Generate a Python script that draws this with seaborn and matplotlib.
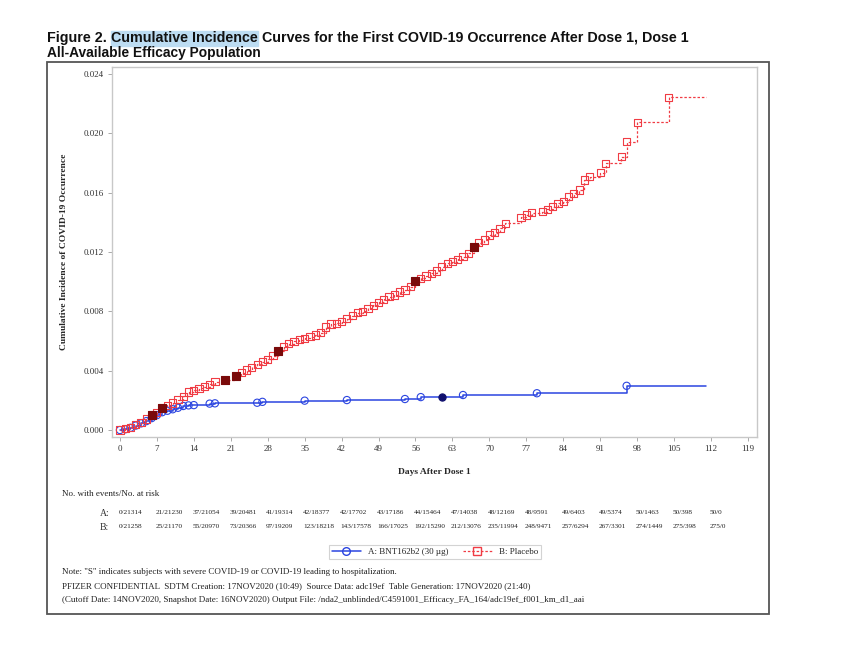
import numpy as np
import pandas as pd
import seaborn as sns
import matplotlib
matplotlib.use("Agg")
import matplotlib.pyplot as plt
from matplotlib.lines import Line2D
from matplotlib.patches import Rectangle

# ---- data ----
# A: BNT162b2 (30 ug), event days and cumulative incidence
vax_days = [0, 1, 2, 3, 4, 5, 6, 7, 8, 9, 10, 11, 12, 13, 14, 17, 18, 26, 27,
            35, 43, 54, 57, 61, 65, 79, 96]
vax_ci = [0.0, 0.00005, 0.00015, 0.0003, 0.00045, 0.0006, 0.0008, 0.001,
          0.0012, 0.0013, 0.0014, 0.0015, 0.00162, 0.00166, 0.00168, 0.00178,
          0.0018, 0.00184, 0.0019, 0.00198, 0.00202, 0.00209, 0.00222,
          0.00225, 0.00236, 0.00248, 0.00298]
vax_severe_days = [61]
vax_end = 111

# B: Placebo
pbo_days = [0, 1, 2, 3, 4, 5, 6, 7, 8, 9, 10, 11, 12, 13, 14, 15, 16, 17, 18,
            20, 22, 23, 24, 25, 26, 27, 28, 29, 30, 31, 32, 33, 34, 35, 36, 37,
            38, 39, 40, 41, 42, 43, 44, 45, 46, 47, 48, 49, 50, 51, 52, 53, 54,
            55, 56, 57, 58, 59, 60, 61, 62, 63, 64, 65, 66, 67, 68, 69, 70, 71,
            72, 73, 76, 77, 78, 80, 81, 82, 83, 84, 85, 86, 87, 88, 89, 91, 92,
            95, 96, 98, 104]
pbo_ci = [0.0, 0.0001, 0.00018, 0.00036, 0.00052, 0.00075, 0.00098, 0.0012,
          0.0015, 0.00166, 0.00182, 0.00205, 0.00227, 0.00257, 0.00268, 0.0028,
          0.00291, 0.00309, 0.00325, 0.00336, 0.00366, 0.00386, 0.00405,
          0.00423, 0.00443, 0.00461, 0.00477, 0.005, 0.00536, 0.00564, 0.00582,
          0.00598, 0.0061, 0.00618, 0.0063, 0.0064, 0.00655, 0.00695, 0.00714,
          0.0072, 0.0073, 0.0075, 0.0077, 0.0079, 0.0080, 0.0082, 0.0084,
          0.0086, 0.0088, 0.0090, 0.0091, 0.0093, 0.00944, 0.00966, 0.01007,
          0.01023, 0.01038, 0.01056, 0.01072, 0.01101, 0.01124, 0.01135,
          0.01151, 0.01169, 0.01191, 0.01236, 0.01263, 0.01281, 0.01315,
          0.0133, 0.0136, 0.01393, 0.01434, 0.0145, 0.01465, 0.01472, 0.01488,
          0.01506, 0.01528, 0.01539, 0.01573, 0.01596, 0.01618, 0.01685,
          0.01708, 0.01735, 0.01798, 0.01843, 0.01944, 0.02074, 0.02243]
pbo_severe_days = [6, 8, 20, 22, 30, 56, 67]
pbo_end = 111

risk_days = list(range(0, 113, 7))
risk_a = ["0/21314", "21/21230", "37/21054", "39/20481", "41/19314", "42/18377",
          "42/17702", "43/17186", "44/15464", "47/14038", "48/12169", "48/9591",
          "49/6403", "49/5374", "50/1463", "50/398", "50/0"]
risk_b = ["0/21258", "25/21170", "55/20970", "73/20366", "97/19209", "123/18218",
          "143/17578", "166/17025", "192/15290", "212/13076", "235/11994",
          "248/9471", "257/6294", "267/3301", "274/1449", "275/398", "275/0"]

notes = [
    'Note: "S" indicates subjects with severe COVID-19 or COVID-19 leading to hospitalization.',
    "PFIZER CONFIDENTIAL  SDTM Creation: 17NOV2020 (10:49)  Source Data: adc19ef  Table Generation: 17NOV2020 (21:40)",
    "(Cutoff Date: 14NOV2020, Snapshot Date: 16NOV2020) Output File: /nda2_unblinded/C4591001_Efficacy_FA_164/adc19ef_f001_km_d1_aai",
]

# ---- build frames ----
vax = pd.DataFrame({"day": vax_days, "ci": vax_ci})
pbo = pd.DataFrame({"day": pbo_days, "ci": pbo_ci})
vax_line = pd.concat([vax, pd.DataFrame({"day": [vax_end], "ci": [vax_ci[-1]]})])
pbo_line = pd.concat([pbo, pd.DataFrame({"day": [pbo_end], "ci": [pbo_ci[-1]]})])
vax["severe"] = vax["day"].isin(vax_severe_days)
pbo["severe"] = pbo["day"].isin(pbo_severe_days)

sns.set_style("white")
plt.rcParams["font.family"] = ["Liberation Serif", "DejaVu Serif"]

BLUE = "#2b45e0"
RED = "#f03c44"

fig = plt.figure(figsize=(8.42, 6.56), dpi=100)
W, H = 842, 656
ax = fig.add_axes([112 / W, 1 - 437 / H, 645 / W, 370 / H])

sns.lineplot(data=vax_line, x="day", y="ci", ax=ax, color=BLUE, lw=1.1,
             drawstyle="steps-post", estimator=None, sort=False)
sns.lineplot(data=pbo_line, x="day", y="ci", ax=ax, color=RED, lw=0.9,
             drawstyle="steps-post", estimator=None, sort=False,
             linestyle=(0, (2, 1.5)))

ms = 27
sns.scatterplot(data=vax[~vax["severe"]], x="day", y="ci", ax=ax, marker="o",
                s=ms, facecolor="none", edgecolor=BLUE, linewidth=0.8, zorder=3)
sns.scatterplot(data=vax[vax["severe"]], x="day", y="ci", ax=ax, marker="o",
                s=ms, color="#10106e", edgecolor="#10106e", linewidth=0.8, zorder=4)
sns.scatterplot(data=pbo[~pbo["severe"]], x="day", y="ci", ax=ax, marker="s",
                s=ms, facecolor="none", edgecolor=RED, linewidth=0.8, zorder=3)
sns.scatterplot(data=pbo[pbo["severe"]], x="day", y="ci", ax=ax, marker="s",
                s=ms, color="#7a0a0a", edgecolor="#7a0a0a", linewidth=0.8, zorder=4)

ax.set_xlim(-1.5, 120.7)
ax.set_ylim(-0.00047, 0.02447)
ax.set_xticks(range(0, 120, 7))
ax.set_yticks(np.arange(0, 0.0241, 0.004))
ax.yaxis.set_major_formatter(matplotlib.ticker.FormatStrFormatter("%.3f"))
ax.tick_params(axis="both", labelsize=6.5, colors="#333333", length=3,
               width=0.7, direction="out", color="#aaaaaa", pad=3)
ax.tick_params(axis="both", which="both", bottom=True, left=True)
for sp in ax.spines.values():
    sp.set_color("#c8c8c8")
    sp.set_linewidth(1.0)

ax.set_xlabel("Days After Dose 1", fontsize=6.8, fontweight="bold")
ax.set_ylabel("Cumulative Incidence of COVID-19 Occurrence", fontsize=6.8,
              fontweight="bold")
ax.xaxis.set_label_coords(0.5, -(468 - 437) / 370)
ax.yaxis.set_label_coords(-(112 - 68) / 645, 0.5)

# ---- risk table ----
tr = ax.get_xaxis_transform()
ya = -(513 - 437) / 370
yb = -(527 - 437) / 370
ax.text(-3.8, ya, "A:", transform=tr, fontsize=7, va="center", ha="left",
        color="#333333", clip_on=False)
ax.text(-3.8, yb, "B:", transform=tr, fontsize=7, va="center", ha="left",
        color="#333333", clip_on=False)
for d, a, b in zip(risk_days, risk_a, risk_b):
    ax.text(d - 0.3, ya, a, transform=tr, fontsize=5.2, va="center", ha="left",
            color="#222222", clip_on=False)
    ax.text(d - 0.3, yb, b, transform=tr, fontsize=5.2, va="center", ha="left",
            color="#222222", clip_on=False)

fig.text(62 / W, 1 - 494 / H, "No. with events/No. at risk", fontsize=6.5,
         va="center", ha="left", color="#222222")

# ---- legend ----
handles = [
    Line2D([], [], color=BLUE, lw=1.1, marker="o", markersize=5.5,
           markerfacecolor="none", markeredgecolor=BLUE),
    Line2D([], [], color=RED, lw=0.9, linestyle=(0, (2, 1.5)), marker="s",
           markersize=5.5, markerfacecolor="none", markeredgecolor=RED),
]
leg = fig.legend(handles, ["A: BNT162b2 (30 µg)", "B: Placebo"], ncol=2,
                 loc="center", bbox_to_anchor=(435 / W, 1 - 552 / H),
                 fontsize=6.5, frameon=True, fancybox=False, handlelength=3.2,
                 columnspacing=1.6, handletextpad=0.8, borderpad=0.35)
leg.get_frame().set_edgecolor("#c8c8c8")
leg.get_frame().set_linewidth(0.8)

for i, line in enumerate(notes):
    fig.text(62 / W, 1 - (572 + 14 * i) / H, line, fontsize=6.5, va="center",
             ha="left", color="#222222")

# ---- outer frame ----
fig.patches.append(Rectangle((47 / W, 1 - 614 / H), 722 / W, 552 / H,
                             transform=fig.transFigure, fill=False,
                             edgecolor="#555555", lw=1.3))

# ---- title with highlighted words ----
renderer = fig.canvas.get_renderer()
tkw = dict(fontweight="bold", family=["Liberation Sans", "DejaVu Sans"],
           va="baseline", ha="left", color="#111111")
x0 = 47 / W
yb1 = 1 - 42 / H
parts = [("Figure 2. ", False), ("Cumulative Incidence", True),
         (" Curves for the First COVID-19 Occurrence After Dose 1, Dose 1", False)]
x = x0
for txt, hl in parts:
    t = fig.text(x, yb1, txt, fontsize=10.25, **tkw)
    bb = t.get_window_extent(renderer)
    if hl:
        fig.patches.append(Rectangle((bb.x0 / W, 1 - 45.5 / H), bb.width / W,
                                     15 / H, transform=fig.transFigure,
                                     color="#bcdcf2", zorder=0))
    x = bb.x1 / W
fig.text(x0, 1 - 57.5 / H, "All-Available Efficacy Population", fontsize=9.9,
         **tkw)

fig.savefig("out.png", dpi=100, facecolor="white")
